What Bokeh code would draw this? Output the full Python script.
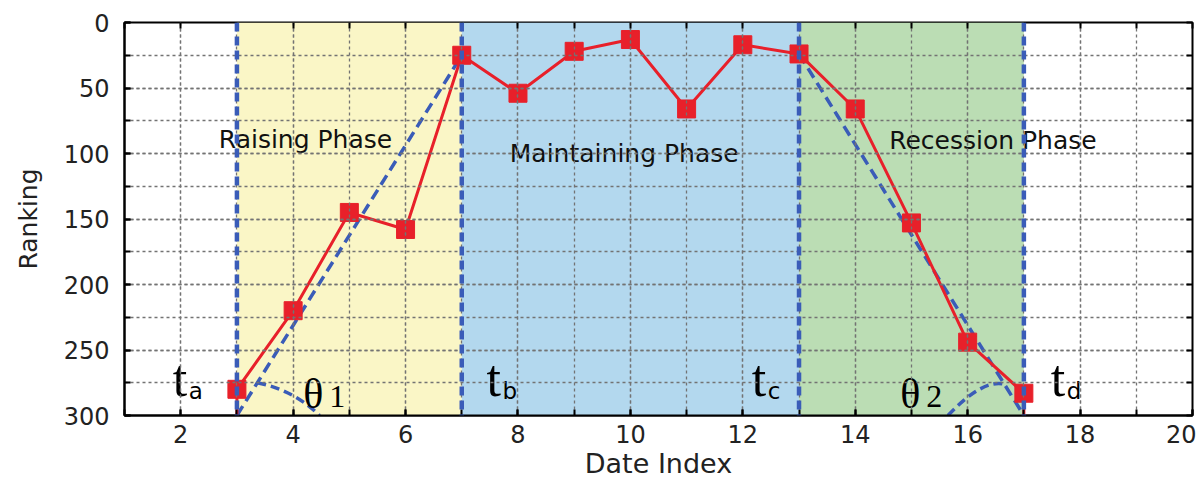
import math
from bokeh.plotting import figure
from bokeh.models import Range1d, SingleIntervalTicker, LinearAxis, Span, CustomJSTickFormatter
from bokeh.core.properties import value
from bokeh.embed import file_html
from bokeh.resources import INLINE

# ---------------- data ----------------
date_index = [3, 4, 5, 6, 7, 8, 9, 10, 11, 12, 13, 14, 15, 16, 17]
ranking = [280, 220, 145, 158, 25, 54, 22, 13, 66, 17, 24, 66, 153, 244, 283]
baseline_rank = 300

phase_names = ["Raising Phase", "Maintaining Phase", "Recession Phase"]
phase_edges = [3, 7, 13, 17]
phase_colors = ["#FAF6C6", "#B3D8EE", "#BBDDB4"]
phase_label_x = [4.22, 9.89, 16.45]
phase_label_y = [89, 100, 90]

time_main = ["t", "t", "t", "t"]
time_sub = ["a", "b", "c", "d"]
time_x = [1.86, 7.44, 12.16, 17.48]
time_y = [272, 272, 272, 272]

angle_main = ["θ", "θ"]
angle_sub = ["1", "2"]
angle_x = [4.18, 14.8]
angle_y = [283.5, 283.5]

# angle marker curves: start, control, end (data units)
arc_x0 = [3.36, 15.65]
arc_y0 = [275, 300]
arc_cx = [4.01, 16.27]
arc_cy = [280.5, 272]
arc_x1 = [4.47, 16.65]
arc_y1 = [300, 276]

x_start, x_end = 1, 20
y_start, y_end = 0, 300

# ---------------- figure ----------------
W, H = 1196, 482
ML, MR, MT, MB = 124, 1, 22, 67
p = figure(width=W, height=H, output_backend="svg", toolbar_location=None,
           x_range=Range1d(x_start, x_end), y_range=Range1d(y_end, y_start),
           min_border_left=ML, min_border_right=MR, min_border_top=MT, min_border_bottom=MB,
           background_fill_color="white", border_fill_color="white")
p.outline_line_color = "black"
p.outline_line_width = 2

tick_font = "DejaVu Sans"

xt = SingleIntervalTicker(interval=2, num_minor_ticks=2)
yt = SingleIntervalTicker(interval=50, num_minor_ticks=2)
p.xaxis.ticker = xt
p.yaxis.ticker = yt
p.xgrid.ticker = xt
p.ygrid.ticker = yt

for ax in (p.xaxis[0], p.yaxis[0]):
    ax.major_tick_in = 6
    ax.major_tick_out = 0
    ax.minor_tick_in = 6
    ax.minor_tick_out = 0
    ax.major_tick_line_color = "black"
    ax.major_tick_line_width = 2
    ax.minor_tick_line_color = "black"
    ax.minor_tick_line_width = 2
    ax.axis_line_color = "black"
    ax.axis_line_width = 2
    ax.major_label_text_font = tick_font
    ax.major_label_text_font_size = "24px"
    ax.major_label_text_color = "#222222"
    ax.axis_label_text_font = tick_font
    ax.axis_label_text_font_style = "normal"
    ax.axis_label_text_color = "#222222"

p.xaxis.axis_label = "Date Index"
p.yaxis.axis_label = "Ranking"
p.xaxis.axis_label_text_font_size = "27px"
p.yaxis.axis_label_text_font_size = "25px"
p.xaxis.major_label_standoff = 9
p.xaxis.axis_label_standoff = 2
p.yaxis.major_label_standoff = 15
p.yaxis.axis_label_standoff = 18

for g in (p.xgrid[0], p.ygrid[0]):
    g.grid_line_color = "#737373"
    g.grid_line_dash = "3 3"
    g.grid_line_width = 1.3
    g.minor_grid_line_color = "#737373"
    g.minor_grid_line_dash = "3 3"
    g.minor_grid_line_width = 1.3
    g.level = "glyph"

blank = CustomJSTickFormatter(code="return ''")
top_ax = LinearAxis(ticker=SingleIntervalTicker(interval=1), major_tick_in=6, major_tick_out=0,
                    major_label_text_font_size="0px", major_label_standoff=0, formatter=blank,
                    axis_line_color=None, minor_tick_line_color=None,
                    major_tick_line_color="black", major_tick_line_width=2)
right_ax = LinearAxis(ticker=SingleIntervalTicker(interval=25), major_tick_in=6, major_tick_out=0,
                      major_label_text_font_size="0px", major_label_standoff=0, formatter=blank,
                      axis_line_color=None, minor_tick_line_color=None,
                      major_tick_line_color="black", major_tick_line_width=2)
p.add_layout(top_ax, "above")
p.add_layout(right_ax, "right")

# phase fills
p.quad(left=phase_edges[:-1], right=phase_edges[1:], top=[y_start] * 3, bottom=[y_end] * 3,
       fill_color=phase_colors, line_color=None, level="underlay")

blue = "#3A5CB8"

# trend (slope) lines
i_b = date_index.index(phase_edges[1])
i_c = date_index.index(phase_edges[2])
p.line([phase_edges[0], phase_edges[1]], [baseline_rank, ranking[i_b]],
       line_color=blue, line_width=3.5, line_dash="11 6")
p.line([phase_edges[2], phase_edges[3]], [ranking[i_c], baseline_rank],
       line_color=blue, line_width=3.5, line_dash="11 6")

# angle markers
p.quadratic(x0=arc_x0, y0=arc_y0, x1=arc_x1, y1=arc_y1, cx=arc_cx, cy=arc_cy,
            line_color=blue, line_width=3.5, line_dash="9 5")

# red series
red = "#E8202A"
line_x = [date_index[0]] + date_index + [date_index[-1]]
line_y = [baseline_rank] + ranking + [baseline_rank]
p.line(line_x, line_y, line_color=red, line_width=3)
p.scatter(date_index, ranking, marker="square", size=18, fill_color=red, line_color=red)

# phase boundaries
for e in phase_edges:
    p.add_layout(Span(location=e, dimension="height", line_color=blue, line_width=4.5, line_dash="9 5"))

# phase labels
p.text(x=phase_label_x, y=phase_label_y, text=phase_names, text_align="center",
       text_baseline="middle", text_font=value("DejaVu Sans"), text_font_size="25px",
       text_color="#111111")

# time labels
p.text(x=time_x, y=time_y, text=time_main, text_align="left", text_baseline="alphabetic",
       text_font=value("Liberation Serif"), text_font_size="52px", text_color="black")
p.text(x=time_x, y=time_y, text=time_sub, text_align="left", text_baseline="alphabetic",
       x_offset=16, y_offset=12, text_font=value("DejaVu Sans"), text_font_size="23px",
       text_color="black")

# angle labels
p.text(x=angle_x, y=angle_y, text=angle_main, text_align="left", text_baseline="alphabetic",
       text_font=value("Liberation Serif"), text_font_size="42px", text_color="black")
p.text(x=angle_x, y=angle_y, text=angle_sub, text_align="left", text_baseline="alphabetic",
       x_offset=26, y_offset=3, text_font=value("Liberation Serif"), text_font_size="32px",
       text_color="black")

open("out.html", "w").write(file_html(p, INLINE))
